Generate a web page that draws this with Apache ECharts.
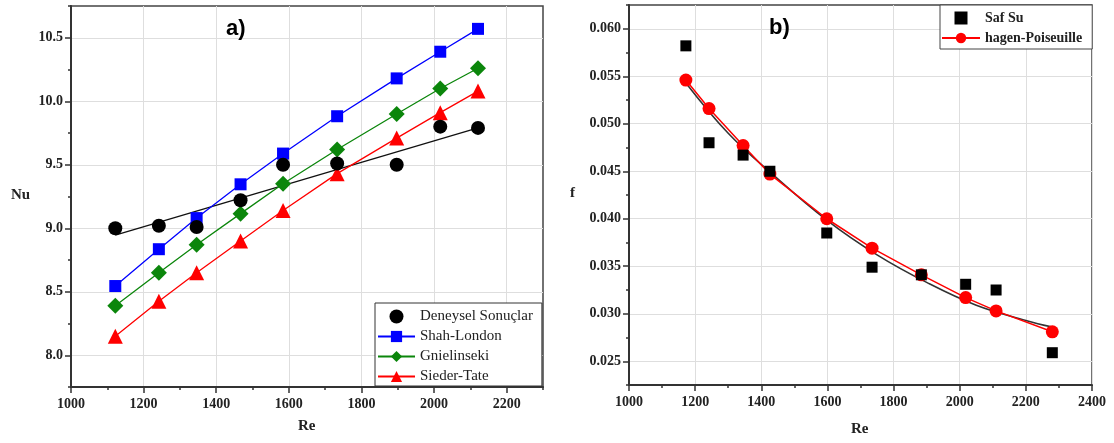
<!DOCTYPE html>
<html><head><meta charset="utf-8">
<script src="https://cdn.jsdelivr.net/npm/echarts@6/dist/echarts.min.js"></script>
<style>html,body{margin:0;padding:0;background:#fff}#c{width:1114px;height:443px}</style>
</head><body><div id="c"></div>
<script>
// ---- Chart a) data ----
const reA = [1122, 1242, 1346, 1467, 1584, 1733, 1897, 2017, 2121];
const nuDeneysel = [9.00, 9.02, 9.01, 9.22, 9.50, 9.51, 9.50, 9.80, 9.79];
const nuShahLondon = [8.545, 8.835, 9.08, 9.346, 9.588, 9.882, 10.18, 10.39, 10.57];
const nuGnielinski = [8.39, 8.65, 8.87, 9.115, 9.35, 9.62, 9.90, 10.10, 10.26];
const nuSiederTate = [8.15, 8.425, 8.65, 8.90, 9.14, 9.43, 9.71, 9.91, 10.08];
const fitReA = [1122, 2121];
const fitNuA = [8.945, 9.79];
const xTicksA = [1000, 1200, 1400, 1600, 1800, 2000, 2200];
const yTicksA = [8.0, 8.5, 9.0, 9.5, 10.0, 10.5];

// ---- Chart b) data ----
const reB = [1172, 1242, 1345, 1426, 1598, 1735, 1884, 2018, 2110, 2280];
const fSafSu = [0.0582, 0.0480, 0.0467, 0.0450, 0.0385, 0.0349, 0.0341, 0.0331, 0.0325, 0.0259];
const fHagen = [0.0546, 0.0516, 0.0477, 0.0447, 0.0400, 0.0369, 0.0341, 0.0317, 0.0303, 0.0281];
const fitReB = [1172, 1300, 1430, 1600, 1750, 1900, 2050, 2200, 2280];
const fitFB = [0.0543, 0.0490, 0.0448, 0.0398, 0.0362, 0.0333, 0.0309, 0.0293, 0.0286];
const xTicksB = [1000, 1200, 1400, 1600, 1800, 2000, 2200, 2400];
const yTicksB = [0.025, 0.030, 0.035, 0.040, 0.045, 0.050, 0.055, 0.060];

const zip = (a, b) => a.map((v, i) => [v, b[i]]);
const SERIF = 'Liberation Serif';
const SQUARE = 'path://M0,0L10,0L10,10L0,10Z';
const labelStyle = { color: '#222', fontFamily: SERIF, fontWeight: 'bold', fontSize: 14 };
const gridLine = { show: true, lineStyle: { color: '#dedede', width: 1 } };
const axisLine = { show: true, lineStyle: { color: '#333', width: 2 } };

function mainAxis(gridIndex, position, min, max, ticks, fmt, margin) {
  return {
    type: 'value', gridIndex, position, min, max,
    axisLine,
    axisTick: { show: true, inside: false, length: 6, customValues: ticks, lineStyle: { color: '#333', width: 1.5 } },
    axisLabel: Object.assign({ customValues: ticks, formatter: fmt, margin }, labelStyle),
    splitLine: gridLine
  };
}
function minorAxis(gridIndex, position, min, max, interval) {
  return {
    type: 'value', gridIndex, position, offset: 0, min, max, interval,
    axisLine: { show: false },
    axisTick: { show: true, inside: false, length: 3, lineStyle: { color: '#333', width: 1.5 } },
    axisLabel: { show: false },
    splitLine: { show: false }
  };
}

const chart = echarts.init(document.getElementById('c'), null, { renderer: 'canvas' });
chart.setOption({
  animation: false,
  backgroundColor: '#fff',
  grid: [
    { left: 71, top: 6, width: 472, height: 381, show: true, borderColor: '#444', borderWidth: 1.5 },
    { left: 629, top: 5, width: 463, height: 380, show: true, borderColor: '#444', borderWidth: 1.5 }
  ],
  xAxis: [
    mainAxis(0, 'bottom', 1000, 2300, xTicksA, v => String(v), 10),
    minorAxis(0, 'bottom', 1000, 2300, 100),
    mainAxis(1, 'bottom', 1000, 2400, xTicksB, v => String(v), 10),
    minorAxis(1, 'bottom', 1000, 2400, 100)
  ],
  yAxis: [
    mainAxis(0, 'left', 7.75, 10.75, yTicksA, v => v.toFixed(1), 8),
    minorAxis(0, 'left', 7.75, 10.75, 0.25),
    mainAxis(1, 'left', 0.0225, 0.0625, yTicksB, v => v.toFixed(3), 8),
    minorAxis(1, 'left', 0.0225, 0.0625, 0.0025)
  ],
  legend: [
    {
      data: ['Deneysel Sonuçlar', 'Shah-London', 'Gnielinseki', 'Sieder-Tate'],
      orient: 'vertical', left: 375, top: 303,
      padding: [6, 9, 2, 2], itemGap: 5, itemWidth: 37, itemHeight: 14,
      backgroundColor: '#fff', borderColor: '#333', borderWidth: 1,
      textStyle: { fontFamily: SERIF, fontSize: 15, color: '#222' },
      selectedMode: false
    },
    {
      data: [{ name: 'Saf Su', icon: SQUARE }, 'hagen-Poiseuille'],
      orient: 'vertical', left: 940, top: 5,
      padding: [6, 10, 4, 1], itemGap: 6, itemWidth: 38, itemHeight: 13,
      backgroundColor: '#fff', borderColor: '#444', borderWidth: 1,
      textStyle: { fontFamily: SERIF, fontSize: 14, fontWeight: 'bold', color: '#222' },
      selectedMode: false
    }
  ],
  series: [
    { name: 'fitA', type: 'line', xAxisIndex: 0, yAxisIndex: 0, data: zip(fitReA, fitNuA),
      showSymbol: false, lineStyle: { color: '#111', width: 1.3 }, itemStyle: { color: '#111' }, z: 2 },
    { name: 'Shah-London', type: 'line', xAxisIndex: 0, yAxisIndex: 0, data: zip(reA, nuShahLondon),
      symbol: 'rect', symbolSize: 12, color: '#0000ff', lineStyle: { width: 1.3 }, z: 3 },
    { name: 'Gnielinseki', type: 'line', xAxisIndex: 0, yAxisIndex: 0, data: zip(reA, nuGnielinski),
      symbol: 'diamond', symbolSize: 16, color: '#0b860b', lineStyle: { width: 1.3 }, z: 3 },
    { name: 'Sieder-Tate', type: 'line', xAxisIndex: 0, yAxisIndex: 0, data: zip(reA, nuSiederTate),
      symbol: 'triangle', symbolSize: 15, color: '#ff0000', lineStyle: { width: 1.3 }, z: 3 },
    { name: 'Deneysel Sonuçlar', type: 'scatter', xAxisIndex: 0, yAxisIndex: 0, data: zip(reA, nuDeneysel),
      symbol: 'circle', symbolSize: 14, itemStyle: { color: '#000', opacity: 1 }, z: 4 },

    { name: 'fitB', type: 'line', xAxisIndex: 2, yAxisIndex: 2, data: zip(fitReB, fitFB), smooth: 0.4,
      showSymbol: false, lineStyle: { color: '#333', width: 1.6 }, itemStyle: { color: '#333' }, z: 2 },
    { name: 'hagen-Poiseuille', type: 'line', xAxisIndex: 2, yAxisIndex: 2, data: zip(reB, fHagen),
      symbol: 'circle', symbolSize: 13, color: '#ff0000', lineStyle: { width: 1.5 }, z: 3 },
    { name: 'Saf Su', type: 'scatter', xAxisIndex: 2, yAxisIndex: 2, data: zip(reB, fSafSu),
      symbol: SQUARE, symbolKeepAspect: true, symbolSize: 11, itemStyle: { color: '#000', opacity: 1 }, z: 4 }
  ],
  graphic: [
    { type: 'text', left: 226, top: 18, z: 100, style: { text: 'a)', font: 'bold 22px "Liberation Sans", Arial', fill: '#000' } },
    { type: 'text', left: 769, top: 17, z: 100, style: { text: 'b)', font: 'bold 22px "Liberation Sans", Arial', fill: '#000' } },
    { type: 'text', left: 11, top: 188, style: { text: 'Nu', font: 'bold 15px "Liberation Serif"', fill: '#222' } },
    { type: 'text', left: 570, top: 186, style: { text: 'f', font: 'bold 15px "Liberation Serif"', fill: '#222' } },
    { type: 'text', left: 298, top: 419, style: { text: 'Re', font: 'bold 15px "Liberation Serif"', fill: '#222' } },
    { type: 'text', left: 851, top: 422, style: { text: 'Re', font: 'bold 15px "Liberation Serif"', fill: '#222' } }
  ]
});
</script></body></html>
